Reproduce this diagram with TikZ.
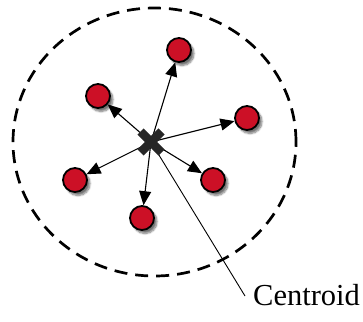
\documentclass[tikz,border=0pt]{standalone}
\usepackage{fontspec}
\setmainfont{Liberation Serif}
\usetikzlibrary{arrows.meta,shadows.blur}
\definecolor{ptred}{RGB}{204,16,38}
\begin{document}
\begin{tikzpicture}[x=1pt,y=-1pt,
  pt/.style={circle,draw,line width=1.8pt,fill=ptred,minimum size=24pt,inner sep=0pt,
    blur shadow={shadow xshift=3pt,shadow yshift=-3.5pt,shadow opacity=55,shadow blur steps=8}},
  fl/.style={line width=1.1pt,-{Triangle[length=14pt,width=12pt]}}]
\useasboundingbox (0,0) rectangle (363,321);
\draw [line width=2.7pt,dash pattern=on 13pt off 8pt](154.5,142) ellipse (141.5pt and 134pt);

\coordinate (c) at (151,142);
\node[pt] (a) at (179,50) {};
\node[pt] (b) at (98,96) {};
\node[pt] (d) at (247,118) {};
\node[pt] (e) at (75,180) {};
\node[pt] (f) at (213,180) {};
\node[pt] (g) at (142,218) {};

\foreach \p in {a,b,d,e,f,g} {
\draw [fl](c) -- (\p);}

\coordinate (t) at (245,296);
\draw [line width=.9pt](c) -- (t);
\draw [line width=8.5pt,black!85](c) +(-10.5,-10.5) -- +(10.5,10.5) (c) +(-10.5,10.5) -- +(10.5,-10.5);

\node [anchor=base west,inner sep=0pt,font=\fontsize{30.5}{36}\selectfont] (lbl) at (253,305){Centroid};
\end{tikzpicture}
\end{document}
